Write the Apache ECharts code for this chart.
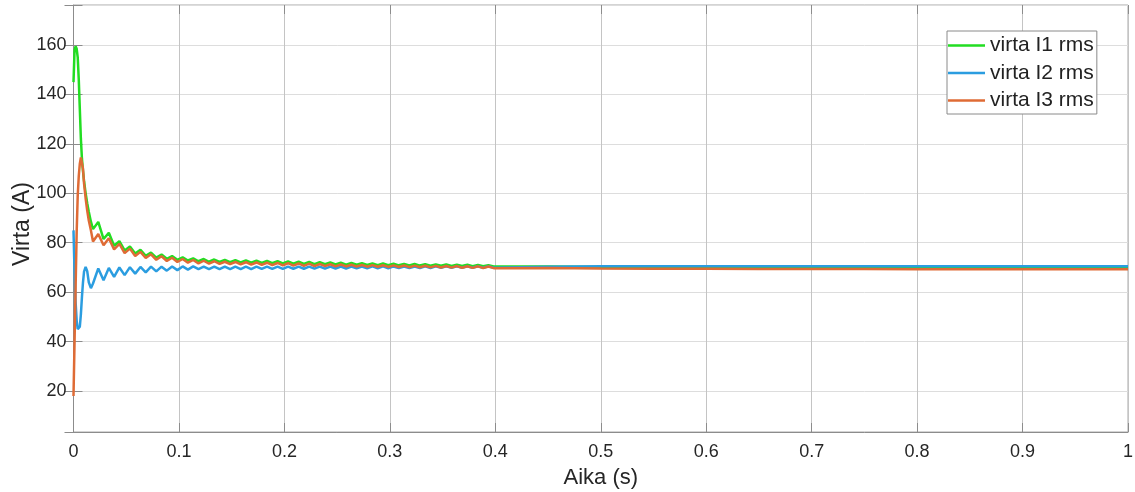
<!DOCTYPE html>
<html>
<head>
<meta charset="utf-8">
<script src="https://cdn.jsdelivr.net/npm/echarts@6/dist/echarts.min.js"></script>
<style>
html,body{margin:0;padding:0;background:#fff;}
#chart{width:1135px;height:492px;}
</style>
</head>
<body>
<div id="chart"></div>
<script>
// Time axis (s)
const time = [
  0, 0.001, 0.002, 0.003, 0.004, 0.005, 0.006, 0.007, 0.008, 0.009, 0.010, 0.0115, 0.013, 0.0145, 0.0165, 0.0185,
  0.0235, 0.0285, 0.0335, 0.0385, 0.0435, 0.0485, 0.0535, 0.0585, 0.0635, 0.0685,
  0.0735, 0.0785, 0.0835, 0.0885, 0.0935, 0.0985, 0.1035, 0.1085, 0.1135, 0.1185,
  0.1235, 0.1285, 0.1335, 0.1385, 0.1435, 0.1485, 0.1535, 0.1585, 0.1635, 0.1685,
  0.1735, 0.1785, 0.1835, 0.1885, 0.1935, 0.1985, 0.2035, 0.2085, 0.2135, 0.2185,
  0.2235, 0.2285, 0.2335, 0.2385, 0.2435, 0.2485, 0.2535, 0.2585, 0.2635, 0.2685,
  0.2735, 0.2785, 0.2835, 0.2885, 0.2935, 0.2985, 0.3035, 0.3085, 0.3135, 0.3185,
  0.3235, 0.3285, 0.3335, 0.3385, 0.3435, 0.3485, 0.3535, 0.3585, 0.3635, 0.3685,
  0.3735, 0.3785, 0.3835, 0.3885, 0.3935, 0.3985,
  0.45, 0.5, 0.55, 0.6, 0.65, 0.7, 0.75, 0.8, 0.85, 0.9, 0.95, 1.0
];
// virta I1 rms (A)
const virtaI1 = [
  145, 158, 159.5, 158.5, 155, 146, 134, 122, 114, 109, 105, 100, 96, 92.5, 88.5, 85.5,
  88.4, 81.5, 84.0, 78.8, 80.6, 76.9, 78.5, 75.6, 77.1, 74.7,
  76.0, 74.0, 75.2, 73.5, 74.6, 73.1, 74.1, 72.8, 73.7, 72.5,
  73.4, 72.3, 73.2, 72.2, 73.0, 72.1, 72.9, 72.0, 72.8, 71.9,
  72.7, 71.8, 72.6, 71.7, 72.5, 71.6, 72.4, 71.5, 72.3, 71.4,
  72.2, 71.35, 72.1, 71.3, 72.0, 71.2, 71.9, 71.15, 71.8, 71.1,
  71.7, 71.0, 71.65, 70.95, 71.6, 70.9, 71.5, 70.85, 71.45, 70.8,
  71.4, 70.75, 71.3, 70.7, 71.25, 70.65, 71.2, 70.6, 71.1, 70.55,
  71.05, 70.5, 71.0, 70.45, 70.9, 70.4,
  70.4, 70.2, 70.1, 70.0, 69.95, 69.9, 69.9, 69.85, 69.85, 69.85, 69.85, 69.85
];
// virta I2 rms (A)
const virtaI2 = [
  85, 68, 56, 48.5, 45, 44.3, 46, 51, 58, 64, 68.3, 70.2, 68.5, 64, 61.6, 63.5,
  69.6, 64.8, 69.8, 66.2, 70.0, 66.9, 70.1, 67.5, 70.2, 68.0,
  70.3, 68.4, 70.3, 68.7, 70.4, 68.9, 70.4, 69.1, 70.4, 69.3,
  70.3, 69.3, 70.3, 69.3, 70.3, 69.3, 70.3, 69.35, 70.3, 69.35,
  70.3, 69.4, 70.3, 69.4, 70.3, 69.4, 70.3, 69.45, 70.3, 69.45,
  70.3, 69.5, 70.35, 69.5, 70.35, 69.55, 70.35, 69.55, 70.35, 69.6,
  70.35, 69.6, 70.4, 69.65, 70.4, 69.65, 70.4, 69.7, 70.4, 69.7,
  70.4, 69.75, 70.45, 69.75, 70.45, 69.8, 70.45, 69.8, 70.45, 69.85,
  70.45, 69.85, 70.5, 69.9, 70.5, 69.9,
  70.3, 70.45, 70.5, 70.5, 70.5, 70.5, 70.5, 70.5, 70.5, 70.5, 70.5, 70.5
];
// virta I3 rms (A)
const virtaI3 = [
  18, 40, 62, 84, 99, 107, 112, 114.5, 114.5, 110, 104, 98, 93, 89, 85, 80.5,
  83.5, 79.0, 81.8, 77.3, 79.5, 75.8, 77.6, 74.6, 76.3, 73.8,
  75.3, 73.1, 74.5, 72.6, 73.9, 72.2, 73.4, 71.9, 73.0, 71.6,
  72.7, 71.5, 72.5, 71.4, 72.3, 71.3, 72.2, 71.2, 72.1, 71.1,
  72.0, 71.0, 71.9, 70.9, 71.8, 70.8, 71.7, 70.7, 71.6, 70.6,
  71.5, 70.55, 71.4, 70.5, 71.3, 70.45, 71.2, 70.4, 71.1, 70.35,
  71.0, 70.3, 70.95, 70.25, 70.9, 70.2, 70.85, 70.15, 70.8, 70.1,
  70.75, 70.05, 70.7, 70.0, 70.65, 69.95, 70.6, 69.9, 70.55, 69.85,
  70.5, 69.8, 70.45, 69.75, 70.4, 69.7,
  69.8, 69.6, 69.5, 69.45, 69.4, 69.4, 69.35, 69.3, 69.3, 69.3, 69.3, 69.3
];
const seriesNames = ['virta I1 rms', 'virta I2 rms', 'virta I3 rms'];
const seriesColors = ['#22dd22', '#2b9de0', '#df6b35'];
const xName = 'Aika (s)';
const yName = 'Virta (A)';
const yTickStep = 20;

const FONT = '"Liberation Sans", Arial, Helvetica, sans-serif';
function pairs(vals) { return time.map((t, i) => [t, vals[i]]); }
const allVals = [virtaI1, virtaI2, virtaI3];

const chart = echarts.init(document.getElementById('chart'), null, {renderer: 'canvas'});
const tickStyle = {show: true, inside: true, length: 9, lineStyle: {color: '#8c8c8c', width: 1}};
chart.setOption({
  animation: false,
  backgroundColor: '#fff',
  grid: {left: 73.5, right: 7, top: 5, bottom: 60, containLabel: false, outerBoundsMode: 'none',
    show: true, borderColor: '#a8a8a8', borderWidth: 1, backgroundColor: '#fff'},
  legend: {
    data: seriesNames,
    orient: 'vertical',
    left: 947, top: 31,
    backgroundColor: '#fff',
    borderColor: '#8a8a8a', borderWidth: 1,
    padding: [4, 3, 3, 1],
    icon: 'rect',
    itemWidth: 37, itemHeight: 2.5, itemGap: 6.5,
    textStyle: {fontFamily: FONT, fontSize: 21, color: '#222'}
  },
  xAxis: [{
    type: 'value', min: 0, max: 1, interval: 0.1,
    name: xName, nameLocation: 'middle', nameGap: 35, nameMoveOverlap: false,
    nameTextStyle: {fontFamily: FONT, fontSize: 22, color: '#262626'},
    axisLine: {show: true, lineStyle: {color: '#8c8c8c'}},
    axisTick: tickStyle,
    axisLabel: {fontFamily: FONT, fontSize: 18, color: '#262626', margin: 11},
    splitLine: {show: true, lineStyle: {color: '#c4c4c4', width: 1}}
  }, {
    type: 'value', min: 0, max: 1, interval: 0.1, position: 'top',
    axisLine: {show: false}, axisTick: tickStyle, axisLabel: {show: false}, splitLine: {show: false}
  }],
  yAxis: [{
    type: 'value', min: 3.4, max: 176.2, minInterval: yTickStep, maxInterval: yTickStep,
    name: yName, nameLocation: 'middle', nameGap: 39, nameMoveOverlap: false,
    nameTextStyle: {fontFamily: FONT, fontSize: 23, color: '#262626', padding: [0, 11, 0, 0]},
    axisLine: {show: true, lineStyle: {color: '#8c8c8c'}},
    axisTick: tickStyle,
    axisLabel: {fontFamily: FONT, fontSize: 18, color: '#262626', margin: 7,
      formatter: v => (Math.abs(v / yTickStep - Math.round(v / yTickStep)) < 1e-6 ? String(Math.round(v)) : '')},
    splitLine: {show: true, lineStyle: {color: '#dddddd', width: 1}}
  }, {
    type: 'value', min: 3.4, max: 176.2, minInterval: yTickStep, maxInterval: yTickStep, position: 'right',
    axisLine: {show: false}, axisTick: tickStyle, axisLabel: {show: false}, splitLine: {show: false}
  }],
  series: seriesNames.map((name, i) => ({
    name: name, type: 'line', xAxisIndex: 0, yAxisIndex: 0,
    data: pairs(allVals[i]),
    showSymbol: false, symbol: 'none',
    lineStyle: {color: seriesColors[i], width: 2.5},
    itemStyle: {color: seriesColors[i]},
    z: 2 + i
  }))
});
</script>
</body>
</html>
